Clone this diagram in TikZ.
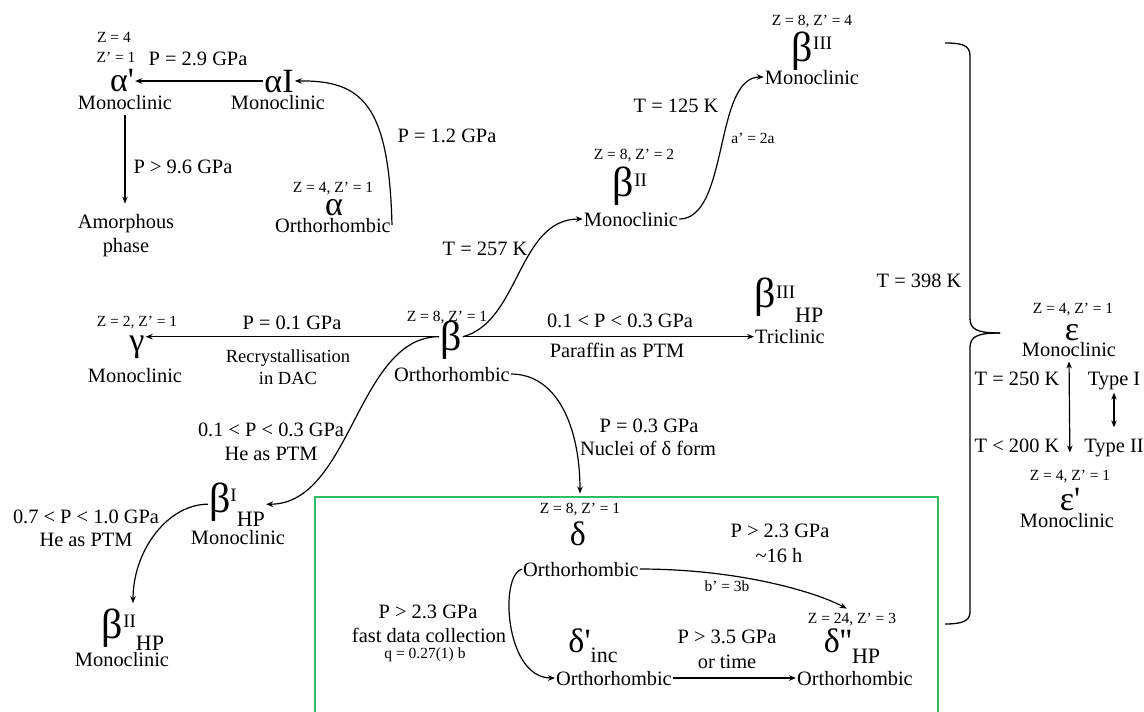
\documentclass[tikz,border=0pt]{standalone}
\usepackage{fontspec}
\setmainfont{Liberation Serif}
\usetikzlibrary{arrows.meta,calc}
\definecolor{boxgreen}{RGB}{52,185,100}

% raised index and lowered index beside a large Greek letter
\newcommand\gsup[2]{\raisebox{#1pt}{\fontsize{19}{19}\selectfont #2}}
\newcommand\gsub[2]{\raisebox{-#1pt}{\fontsize{22}{22}\selectfont #2}}

\begin{document}
\begin{tikzpicture}[x=1pt,y=-1pt,
  lbl/.style={font=\fontsize{20.4}{24}\selectfont, inner sep=1pt, anchor=base},
  zlbl/.style={font=\fontsize{15.5}{18}\selectfont, inner sep=1pt, anchor=base},
  cond/.style={font=\fontsize{18.5}{22}\selectfont, inner sep=1pt, anchor=base},
  greek/.style={font=\fontsize{34}{34}\selectfont, inner sep=1pt, anchor=base},
  beta/.style={font=\fontsize{42}{42}\selectfont, inner sep=1pt, anchor=base},
  arr/.style={line width=1.2pt, -{Stealth[length=7pt,width=5.5pt]}},
  darr/.style={line width=1.2pt, {Stealth[length=7pt,width=5.5pt]}-{Stealth[length=7pt,width=5.5pt]}},
  ]
\useasboundingbox (0,0) rectangle (1144,712);
\fill[white] (0,0) rectangle (1144,712);

% ---------------- alpha family ----------------
\node[zlbl] (apz1) at (114,42) {Z = 4};
\node[zlbl] (apz2) at (116,62) {Z’ = 1};
\node[greek] (ap) at (122,91) {α\textquotesingle};
\node[lbl] (apm) at (125,109) {Monoclinic};
\node[greek] (aI) at (279,92) {αI};
\node[lbl] (aIm) at (278,109) {Monoclinic};
\node[lbl] (p29) at (198,65) {P = 2.9 GPa};
\node[lbl] (p96) at (183,173) {P > 9.6 GPa};
\node[lbl] (amo) at (126,228) {Amorphous};
\node[lbl] (pha) at (126,252) {phase};
\node[zlbl] (az) at (333,192) {Z = 4, Z’ = 1};
\node[greek] (a) at (334,215) {α};
\node[lbl] (aor) at (333,232) {Orthorhombic};
\node[lbl] (p12) at (447,142) {P = 1.2 GPa};

% ---------------- beta family ----------------
\node[zlbl] (bz) at (447,321) {Z = 8, Z’ = 1};
\node[beta] (b) at (451,350) {β};
\node[lbl] (bor) at (452,381) {Orthorhombic};

\node[lbl] (t257) at (485,255) {T = 257 K};
\node[zlbl] (biiz) at (634,159) {Z = 8, Z’ = 2};
\node[beta] (bii) at (630,196) {β\gsup{10}{II}};
\node[lbl] (biim) at (631,226) {Monoclinic};

\node[lbl] (t125) at (676,112) {T = 125 K};
\node[zlbl] (a2a) at (753,143) {a’ = 2a};
\node[zlbl] (biiiz) at (812,25) {Z = 8, Z’ = 4};
\node[beta] (biii) at (812,61) {β\gsup{12}{III}};
\node[lbl] (biiim) at (812,84) {Monoclinic};

\node[lbl] (pr1) at (620,327) {0.1 < P < 0.3 GPa};
\node[lbl] (par) at (617,357) {Paraffin as PTM};
\node[beta] (bhp3) at (789,307) {β\gsup{9}{III}\gsub{15}{HP}};
\node[lbl] (tri) at (790,343) {Triclinic};

\node[zlbl] (gz) at (137,326) {Z = 2, Z’ = 1};
\node[greek] (g) at (137,351) {γ};
\node[lbl] (gm) at (135,382) {Monoclinic};
\node[lbl] (p01) at (292,329) {P = 0.1 GPa};
\node[cond] (rec) at (288,362) {Recrystallisation};
\node[cond] (dac) at (288,384) {in DAC};

\node[lbl] (pr2) at (271,436) {0.1 < P < 0.3 GPa};
\node[lbl] (he1) at (271,460) {He as PTM};
\node[beta] (bhp1) at (237,512) {β\gsup{11}{I}\gsub{14}{HP}};
\node[lbl] (bhp1m) at (238,544) {Monoclinic};

\node[lbl] (pr3) at (86,523) {0.7 < P < 1.0 GPa};
\node[lbl] (he2) at (86,546) {He as PTM};
\node[beta] (bhp2) at (133,638) {β\gsup{11}{II}\gsub{12}{HP}};
\node[lbl] (bhp2m) at (122,666) {Monoclinic};

\node[lbl] (p03) at (649,432) {P = 0.3 GPa};
\node[lbl] (nuc) at (648,455) {Nuclei of δ form};

% ---------------- delta family ----------------
\draw[boxgreen, line width=1.8pt] (315,714) -- (315,497) -- (938,497) -- (938,714);

\node[zlbl] (dz) at (580,513) {Z = 8, Z’ = 1};
\node[greek] (d) at (578,545) {δ};
\node[lbl] (dor) at (581,576) {Orthorhombic};

\node[lbl] (p23a) at (428,618) {P > 2.3 GPa};
\node[lbl] (fdc) at (429,642) {fast data collection};
\node[zlbl] (qb) at (425,658) {q = 0.27(1) b};
\node[greek] (di) at (593,652) {δ\textquotesingle\gsub{10}{inc}};
\node[lbl] (dior) at (614,685) {Orthorhombic};

\node[lbl] (p23b) at (780,537) {P > 2.3 GPa};
\node[lbl] (h16) at (779,562) {\textasciitilde16 h};
\node[zlbl] (b3b) at (727,591) {b’ = 3b};
\node[zlbl] (ddz) at (852,623) {Z = 24, Z’ = 3};
\node[greek] (dd) at (852,652) {δ\textquotesingle\textquotesingle\gsub{11}{HP}};
\node[lbl] (ddor) at (855,685) {Orthorhombic};
\node[lbl] (p35) at (727,643) {P > 3.5 GPa};
\node[lbl] (otm) at (727,668) {or time};

% ---------------- epsilon family ----------------
\node[lbl] (t398) at (919,287) {T = 398 K};
\node[zlbl] (ez) at (1073,313) {Z = 4, Z’ = 1};
\node[greek] (e) at (1072,340) {ε};
\node[lbl] (em) at (1069,356) {Monoclinic};
\node[lbl] (t250) at (1017,385) {T = 250 K};
\node[lbl] (ty1) at (1114,385) {Type I};
\node[lbl] (t200) at (1017,452) {T < 200 K};
\node[lbl] (ty2) at (1114,452) {Type II};
\node[zlbl] (epz) at (1070,480) {Z = 4, Z’ = 1};
\node[greek] (ep) at (1070,510) {ε\textquotesingle};
\node[lbl] (epm) at (1067,527) {Monoclinic};

% brace gathering the high-temperature transitions
\draw[line width=1.3pt] (945,43) .. controls (962,43) and (970,45) .. (970,56) -- (970,318)
  .. controls (970,329) and (976,333) .. (1000,333);
\draw[line width=1.3pt] (1000,333) .. controls (976,333) and (970,337) .. (970,348) -- (970,612)
  .. controls (970,621) and (962,624) .. (945,624);

% ---------------- transitions ----------------
\draw[arr] (aI.west) -- (aI.west -| ap.east);
\draw[arr] (aor.east) .. controls +(-3,-120) and +(68,-1) .. (aI.east);
\draw[arr, shorten <=5pt, shorten >=9pt] (apm.south) -- (apm.south |- amo.north);

\draw[arr] ([yshift=3pt]b.west) -- ([yshift=3pt]b.west -| g.east);
\draw[arr] ([yshift=3pt]b.east) -- ([yshift=3pt]b.east -| tri.west);
\draw[arr] ([yshift=3pt]b.east) .. controls +(57,-15) and +(-65,0) .. (biim.west);
\draw[arr] (biim.east) .. controls +(50,0) and +(-50,0) .. (biiim.west);
\draw[arr] ([yshift=3pt]b.west) .. controls +(-82,0) and +(85,0) .. (bhp1.east);
\draw[arr, shorten >=4pt] (bhp1.west) .. controls +(-40,0) and +(0,-57) .. (bhp2.north);
\draw[arr, shorten >=8pt] (bor.east) .. controls +(47,0) and +(0,-73) .. (dz.north);

\draw[arr] (dor.west) .. controls +(-23,6) and +(-50,0) .. (dior.west);
\draw[arr, shorten >=6pt] (dor.east) .. controls +(100,0) and +(-35,-19) .. (ddz.north);
\draw[arr] (dior.east) -- (dior.east -| ddor.west);

\draw[darr, shorten <=4pt, shorten >=16pt] (em.south) -- (epz.north);
\draw[darr, shorten <=2pt, shorten >=10pt] (ty1.south) -- (ty2.north);
\end{tikzpicture}
\end{document}
